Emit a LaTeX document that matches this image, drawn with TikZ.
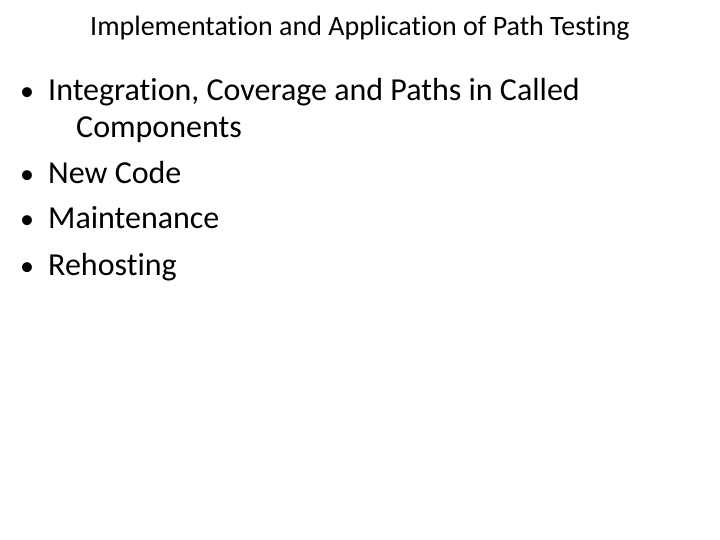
\documentclass[tikz,border=0pt]{standalone}
\usepackage{fontspec}
\setmainfont[Ligatures={NoCommon}]{Carlito}
\begin{document}
\begin{tikzpicture}[x=1pt,y=-1pt,
  title/.style={font=\fontsize{28}{32}\selectfont, inner sep=0pt},
  item/.style={font=\fontsize{32}{38}\selectfont, anchor=base west, inner sep=0pt},
  dot/.style={font=\fontsize{28}{32}\selectfont, anchor=base west, inner sep=0pt}]
\useasboundingbox[fill=white] (0,0) rectangle (720,540);
\node[title] (t) at (360,28) {Implementation and Application of Path Testing};
\node[dot] (b1) at (20,101) {•};
\node[item] (i1) at (48,101) {Integration, Coverage and Paths in Called};
\node[item] (i1b) at (76,138) {Components};
\node[dot] (b2) at (20,184) {•};
\node[item] (i2) at (48,184) {New Code};
\node[dot] (b3) at (20,229) {•};
\node[item] (i3) at (48,229) {Maintenance};
\node[dot] (b4) at (20,275) {•};
\node[item] (i4) at (48,275) {Rehosting};
\end{tikzpicture}
\end{document}
